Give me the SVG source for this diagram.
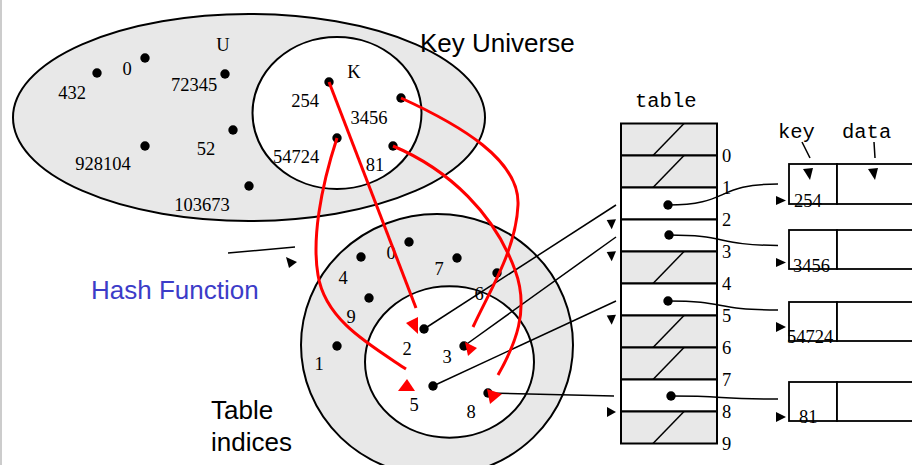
<svg xmlns="http://www.w3.org/2000/svg" width="912" height="465" viewBox="0 0 912 465">
<style>
.s{font-family:"Liberation Serif","Times New Roman",serif;font-size:18.5px;fill:#000}
.m{font-family:"Liberation Mono","Courier New",monospace;font-size:20.5px;fill:#000}
.a{font-family:"Liberation Sans",Arial,sans-serif;font-size:26px;fill:#000}
.ln{fill:none;stroke:#000;stroke-width:1.5}
.red{fill:none;stroke:#ff0000;stroke-width:3}
.rh{fill:#ff0000}
.ah{fill:#000}
.dot{fill:#000}
.shade{fill:#e8e8e8;stroke:#000;stroke-width:2}
.wh{fill:#fff;stroke:#000;stroke-width:2}
.rec{fill:#fff;stroke:#000;stroke-width:1.8}
</style>
<rect x="0" y="0" width="912" height="465" fill="#fff"/>
<line x1="1" y1="0" x2="1" y2="465" stroke="#cccccc" stroke-width="2"/>

<g id="universe">
<ellipse cx="249" cy="117.5" rx="236" ry="103.5" fill="#e8e8e8" stroke="#000" stroke-width="2"/>
<text class="s" x="223" y="51" text-anchor="middle">U</text>
<circle class="dot" cx="97" cy="73" r="4.7"/><text class="s" x="72" y="99" text-anchor="middle">432</text>
<circle class="dot" cx="145" cy="58" r="4.7"/><text class="s" x="127" y="75" text-anchor="middle">0</text>
<circle class="dot" cx="225" cy="74" r="4.7"/><text class="s" x="194" y="91" text-anchor="middle">72345</text>
<circle class="dot" cx="233" cy="130" r="4.7"/><text class="s" x="206" y="155" text-anchor="middle">52</text>
<circle class="dot" cx="145" cy="146" r="4.7"/><text class="s" x="103" y="170" text-anchor="middle">928104</text>
<circle class="dot" cx="249" cy="186" r="4.7"/><text class="s" x="202" y="211" text-anchor="middle">103673</text>
</g>

<g id="keys">
<ellipse cx="337" cy="113" rx="84.5" ry="76" fill="#fff" stroke="#000" stroke-width="2"/>
<text class="s" x="354" y="78" text-anchor="middle">K</text>
<circle class="dot" cx="329" cy="82" r="4.7"/><text class="s" x="305" y="107" text-anchor="middle">254</text>
<circle class="dot" cx="401" cy="98" r="4.7"/><text class="s" x="369" y="124" text-anchor="middle">3456</text>
<circle class="dot" cx="337" cy="138" r="4.7"/><text class="s" x="296" y="163" text-anchor="middle">54724</text>
<circle class="dot" cx="393" cy="146" r="4.7"/><text class="s" x="375" y="171" text-anchor="middle">81</text>
</g>

<g id="key-universe-label"><text class="a" x="420" y="52">Key Universe</text></g>

<g id="indices">
<ellipse cx="437" cy="345" rx="136" ry="131" fill="#e8e8e8" stroke="#000" stroke-width="2"/>
<ellipse cx="449.5" cy="362" rx="84.5" ry="75.7" fill="#fff" stroke="#000" stroke-width="2"/>
<circle class="dot" cx="409" cy="242" r="4.7"/><text class="s" x="391" y="259" text-anchor="middle">0</text>
<circle class="dot" cx="361" cy="257" r="4.7"/><text class="s" x="343" y="284" text-anchor="middle">4</text>
<circle class="dot" cx="457" cy="258" r="4.7"/><text class="s" x="439" y="275" text-anchor="middle">7</text>
<circle class="dot" cx="497" cy="273" r="4.7"/><text class="s" x="479" y="300" text-anchor="middle">6</text>
<circle class="dot" cx="369" cy="298" r="4.7"/><text class="s" x="351" y="323" text-anchor="middle">9</text>
<circle class="dot" cx="337" cy="346" r="4.7"/><text class="s" x="319" y="370" text-anchor="middle">1</text>
<circle class="dot" cx="424" cy="329" r="4.7"/><text class="s" x="407" y="355" text-anchor="middle">2</text>
<circle class="dot" cx="464" cy="346" r="4.7"/><text class="s" x="447" y="363" text-anchor="middle">3</text>
<circle class="dot" cx="433" cy="386" r="4.7"/><text class="s" x="414" y="411" text-anchor="middle">5</text>
<circle class="dot" cx="488" cy="393" r="4.7"/><text class="s" x="471" y="418" text-anchor="middle">8</text>
</g>

<g id="table-indices-label"><text class="a" x="211" y="419">Table</text><text class="a" x="211" y="451">indices</text></g>

<g id="hash-function">
<text class="a" x="91" y="299" style="fill:#3c3cc8">Hash Function</text>
<line class="ln" x1="228" y1="253" x2="295" y2="247"/>
<polygon class="ah" points="286,257 297,262 289,268"/>
</g>

<g id="table">
<text class="m" x="635" y="107">table</text>
<rect class="shade" x="621" y="123.5" width="96" height="32"/>
<rect class="shade" x="621" y="155.5" width="96" height="32"/>
<rect class="wh" x="621" y="187.5" width="96" height="32"/>
<rect class="wh" x="621" y="219.5" width="96" height="32"/>
<rect class="shade" x="621" y="251.5" width="96" height="32"/>
<rect class="wh" x="621" y="283.5" width="96" height="32"/>
<rect class="shade" x="621" y="315.5" width="96" height="32"/>
<rect class="shade" x="621" y="347.5" width="96" height="32"/>
<rect class="wh" x="621" y="379.5" width="96" height="32"/>
<rect class="shade" x="621" y="411.5" width="96" height="32"/>
<g stroke="#000" stroke-width="1.5">
<line x1="653" y1="155.5" x2="684" y2="123.5"/>
<line x1="653" y1="187.5" x2="684" y2="155.5"/>
<line x1="653" y1="283.5" x2="684" y2="251.5"/>
<line x1="653" y1="347.5" x2="684" y2="315.5"/>
<line x1="653" y1="379.5" x2="684" y2="347.5"/>
<line x1="653" y1="443.5" x2="684" y2="411.5"/>
</g>
<circle class="dot" cx="668" cy="205" r="4.7"/>
<circle class="dot" cx="669" cy="235" r="4.7"/>
<circle class="dot" cx="668" cy="301" r="4.7"/>
<circle class="dot" cx="671" cy="396" r="4.7"/>
<text class="s" x="722" y="161.5">0</text>
<text class="s" x="722" y="193.5">1</text>
<text class="s" x="722" y="225.5">2</text>
<text class="s" x="722" y="257.5">3</text>
<text class="s" x="722" y="289.5">4</text>
<text class="s" x="722" y="321.5">5</text>
<text class="s" x="722" y="353.5">6</text>
<text class="s" x="722" y="385.5">7</text>
<text class="s" x="722" y="417.5">8</text>
<text class="s" x="722" y="449.5">9</text>
</g>

<g id="record-labels">
<text class="m" x="778" y="138">key</text>
<text class="m" x="842" y="138">data</text>
<line class="ln" x1="802" y1="142" x2="810" y2="158"/>
<line class="ln" x1="874" y1="142" x2="875" y2="158"/>
</g>

<g id="rec-254">
<rect class="rec" x="789" y="164" width="48" height="40"/><rect class="rec" x="837" y="164" width="90" height="40"/>
<polygon class="ah" points="803,169 813,168 810,180"/>
<polygon class="ah" points="868,169 878,168 875,180"/>
<text class="s" x="794" y="207">254</text>
</g>
<g id="rec-3456">
<rect class="rec" x="789" y="230" width="48" height="39"/><rect class="rec" x="837" y="230" width="90" height="39"/>
<text class="s" x="793" y="272">3456</text>
</g>
<g id="rec-54724">
<rect class="rec" x="789" y="302" width="48" height="39"/><rect class="rec" x="837" y="302" width="90" height="39"/>
<text class="s" x="787" y="343">54724</text>
</g>
<g id="rec-81">
<rect class="rec" x="789" y="382" width="48" height="39"/><rect class="rec" x="837" y="382" width="90" height="39"/>
<text class="s" x="799" y="423">81</text>
</g>

<g id="connectors">
<path class="ln" d="M668,205 C730,205 715,184 778,184"/>
<path class="ln" d="M669,235 C728,235 715,245 778,245.5"/>
<path class="ln" d="M668,301 C728,301 712,310 778,310"/>
<path class="ln" d="M671,396 C728,396 715,399 778,399"/>
<polygon class="ah" points="776,196 776,205 786,200.5"/>
<polygon class="ah" points="776,258 776,267 786,262.5"/>
<polygon class="ah" points="776,322 776,332 786,327"/>
<polygon class="ah" points="776,412 776,422 786,417"/>

<line class="ln" x1="424" y1="329" x2="616" y2="205"/>
<line class="ln" x1="464" y1="346" x2="616" y2="237"/>
<line class="ln" x1="433" y1="386" x2="616" y2="301"/>
<line class="ln" x1="488" y1="393" x2="614" y2="396"/>
<polygon class="ah" points="606.7,220 616,219.3 611.7,229.3"/>
<polygon class="ah" points="606.7,252 616,251.3 611.7,261.3"/>
<polygon class="ah" points="606.7,315.5 616,314.8 611.7,324.8"/>
<polygon class="ah" points="607,407 607,417 616,412"/>

<path class="red" d="M329,82 L416,308"/>
<polygon class="rh" points="406,323 418,317 418,334"/>
<path class="red" d="M401,98 C460,125 520,160 518,205 C516,250 490,290 473,327"/>
<polygon class="rh" points="465,342 477,348 468,356"/>
<path class="red" d="M337,138 C320,190 312,240 318,275 C325,320 370,345 406,369"/>
<polygon class="rh" points="407,379 398,391 415,391"/>
<path class="red" d="M393,146 C450,170 495,215 515,270 C530,310 515,345 498,375"/>
<polygon class="rh" points="487,389 502,394 490,404"/>
</g>
</svg>
